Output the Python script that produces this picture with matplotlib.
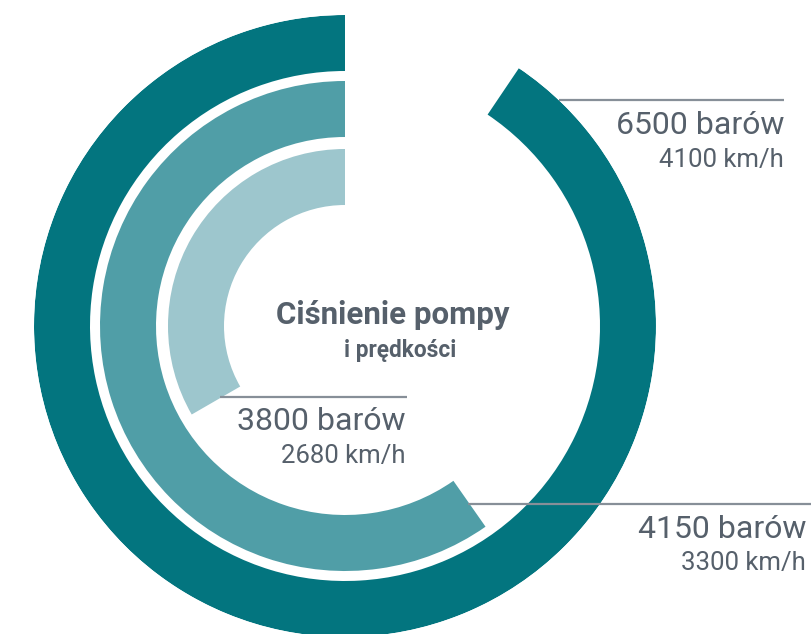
import numpy as np
import matplotlib
matplotlib.use("Agg")
import matplotlib.pyplot as plt

plt.rcParams['font.family'] = ['Roboto', 'DejaVu Sans']

# ring data, outer to inner
pressure_labels = ["6500 barów", "4150 barów", "3800 barów"]
speed_labels = ["4100 km/h", "3300 km/h", "2680 km/h"]
arc_degrees = [326, 215, 120]   # sweep of each ring
ring_colors = ["#03757f", "#509ea7", "#9dc6cd"]

title_line1 = "Ciśnienie pompy"
title_line2 = "i prędkości"

text_color = "#56606b"
line_color = "#878f98"

fig = plt.figure(figsize=(8.12, 6.34), dpi=100)

# polar axes: center at (345, 326) px, radius 311 px
ax = fig.add_axes([34 / 812, -3 / 634, 622 / 812, 622 / 634], projection='polar')
ax.set_theta_zero_location('N')
ax.set_theta_direction(1)
ax.set_ylim(0, 311)
ax.axis('off')

ring_bottoms = [255, 189, 121]
ring_width = 56
for deg, bottom, col in zip(arc_degrees, ring_bottoms, ring_colors):
    ax.bar(0, ring_width, width=np.deg2rad(deg), bottom=bottom, align='edge',
           color=col, linewidth=0)

# overlay in pixel coords for leader lines and labels
ov = fig.add_axes([0, 0, 1, 1])
ov.set_xlim(0, 812)
ov.set_ylim(634, 0)
ov.axis('off')

# (line x0, line x1, line y, text right x, main baseline, sub baseline)
label_pos = [
    (559, 784, 100, 784, 134, 167),
    (468, 812, 504, 806, 538, 570),
    (220, 407, 397, 406, 430, 463),
]
for (x0, x1, ly, tx, b1, b2), p, s in zip(label_pos, pressure_labels, speed_labels):
    ov.plot([x0, x1], [ly, ly], color=line_color, lw=1.6, solid_capstyle='butt')
    ov.text(tx, b1, p, ha='right', va='baseline', fontsize=23, fontweight='normal',
            color=text_color)
    ov.text(tx, b2, s, ha='right', va='baseline', fontsize=18.5, fontweight='normal',
            color=text_color)

ov.text(393, 324, title_line1, ha='center', va='baseline', fontsize=22.5,
        fontweight='bold', color=text_color)
ov.text(400, 357, title_line2, ha='center', va='baseline', fontsize=16.3,
        fontweight='bold', color=text_color)

fig.savefig("out.png", dpi=100)
